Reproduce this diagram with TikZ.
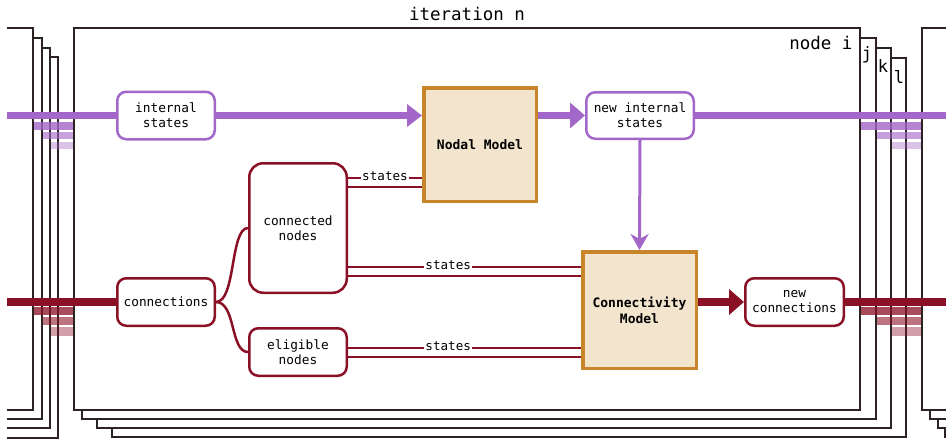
\documentclass[tikz,border=0pt]{standalone}
\usepackage{fontspec}
\newfontfamily\mono{DejaVu Sans Mono}
\usetikzlibrary{arrows.meta}
\definecolor{pur}{HTML}{A367C9}
\definecolor{dred}{HTML}{8A1025}
\definecolor{orb}{HTML}{C98529}
\definecolor{orf}{HTML}{F2E4CD}
\definecolor{frc}{HTML}{2D2222}
\begin{document}
\begin{tikzpicture}[x=1pt,y=-1pt,
  frm/.style={draw=frc,line width=1.5pt,fill=white},
  txt/.style={font=\mono\fontsize{12.8}{15}\selectfont,align=center},
  rbox/.style={txt,draw,line width=2.5pt,rounded corners=9pt,fill=white,inner sep=2pt,minimum width=97.5pt,minimum height=47.5pt},
  pbox/.style={rbox,draw=pur},
  dbox/.style={rbox,draw=dred},
  model/.style={draw=orb,fill=orf,line width=3.5pt,align=center,font=\mono\bfseries\fontsize{13}{16}\selectfont},
  lbl/.style={fill=white,inner sep=1pt,font=\mono\fontsize{12.6}{15}\selectfont,yshift=1.5pt},
  pline/.style={draw=pur,line width=7.5pt},
  rline/.style={draw=dred,line width=8pt},
  dl/.style={draw=dred,line width=1.8pt},
  pb1/.style={fill=pur,fill opacity=0.8},
  pb2/.style={fill=pur,fill opacity=0.62},
  pb3/.style={fill=pur,fill opacity=0.4},
  rb1/.style={fill=dred,fill opacity=0.75},
  rb2/.style={fill=dred,fill opacity=0.58},
  rb3/.style={fill=dred,fill opacity=0.4},
  ttl/.style={font=\mono\fontsize{17.5}{20}\selectfont,anchor=base},
  sml/.style={font=\mono\fontsize{17}{20}\selectfont,anchor=base}
]
\useasboundingbox (0,0) rectangle (946,439);
\begin{scope}
\clip (7,0) rectangle (946,439);
% back layer
\draw[frm] (-800,57) rectangle (58,438);
\draw[frm] (112,58) rectangle (906,437);
\draw[frm] (945,57) rectangle (1800,437);
\fill[pb3] (-10,142) rectangle (100,149);
\fill[pb3] (700,142) rectangle (1000,149);
\fill[rb3] (-10,327) rectangle (100,336);
\fill[rb3] (700,327) rectangle (1000,336);
% layer 3
\draw[frm] (-800,48) rectangle (50,428);
\draw[frm] (97,48) rectangle (891,428);
\draw[frm] (938,48) rectangle (1800,428);
\fill[pb2] (-10,132) rectangle (100,139);
\fill[pb2] (700,132) rectangle (1000,139);
\fill[rb2] (-10,317) rectangle (100,325);
\fill[rb2] (700,317) rectangle (1000,325);
% layer 2
\draw[frm] (-800,38) rectangle (42,419);
\draw[frm] (82,38) rectangle (876,419);
\draw[frm] (930,38) rectangle (1800,419);
\fill[pb1] (-10,122) rectangle (100,130);
\fill[pb1] (700,122) rectangle (1000,130);
\fill[rb1] (-10,307) rectangle (100,315);
\fill[rb1] (700,307) rectangle (1000,315);
% front layer
\draw[frm] (-800,28) rectangle (33,410);
\draw[frm] (74,28) rectangle (860,410);
\draw[frm] (922,28) rectangle (1800,410);
\end{scope}

\node[ttl] (title) at (467,20) {iteration n};
\node[ttl,anchor=base east] (ni) at (856,49) {node i};
\node[sml] (nj) at (867,59) {j};
\node[sml] (nk) at (883,72) {k};
\node[sml] (nl) at (899,83) {l};

% nodes
\node[pbox] (is) at (166,115.5) {internal\\states};
\node[dbox] (cn) at (166,302) {connections};
\node[dbox,minimum height=129.5pt,rounded corners=14pt] (cd) at (298,228) {connected\\nodes};
\node[dbox] (el) at (298,352) {eligible\\nodes};
\node[model,minimum width=112.5pt,minimum height=113.5pt] (nm) at (480,144.5) {Nodal Model};
\node[pbox,minimum width=107.5pt,minimum height=46.5pt] (nis) at (640,115.5) {new internal\\states};
\node[model,minimum width=113.5pt,minimum height=116.5pt] (cm) at (639.5,310) {Connectivity\\Model};
\node[dbox,minimum width=98.5pt] (nc) at (794.5,302) {new\\connections};

\coordinate (pL) at (7,115.5);
\coordinate (pR) at (946,115.5);
\coordinate (rL) at (7,302);
\coordinate (rR) at (946,302);

% purple flow
\draw[pline] (pL) -- (is.west);
\draw[pline,-{Triangle[length=15pt,width=22pt]}] (is.east) -- (nm.west |- is.east);
\draw[pline,-{Triangle[length=15pt,width=25pt]}] (nm.east |- nis.west) -- (nis.west);
\draw[pline] (nis.east) -- (pR);
\draw[draw=pur,line width=3pt,-{Stealth[length=16pt,width=18pt,inset=5pt]}] (nis.south) -- (cm.north);

% red flow
\draw[rline] (rL) -- (cn.west);
\draw[rline,-{Triangle[length=15pt,width=25pt]}] (cm.east |- nc.west) -- (nc.west);
\draw[rline] (nc.east) -- (rR);
\draw[draw=dred,line width=2.5pt] (cn.east) .. controls +(20,0) and +(-18,0) .. (cd.west);
\draw[draw=dred,line width=2.5pt] (cn.east) .. controls +(20,0) and +(-18,0) .. (el.west);

% double state lines
\draw[dl] (cd.east |- 0,178) -- node[lbl]{states} (nm.west |- 0,178);
\draw[dl] (cd.east |- 0,187) -- (nm.west |- 0,187);
\draw[dl] (cd.east |- 0,267) -- node[lbl,pos=0.43]{states} (cm.west |- 0,267);
\draw[dl] (cd.east |- 0,276) -- (cm.west |- 0,276);
\draw[dl] (el.east |- 0,348) -- node[lbl,pos=0.43]{states} (cm.west |- 0,348);
\draw[dl] (el.east |- 0,357) -- (cm.west |- 0,357);
\end{tikzpicture}
\end{document}
